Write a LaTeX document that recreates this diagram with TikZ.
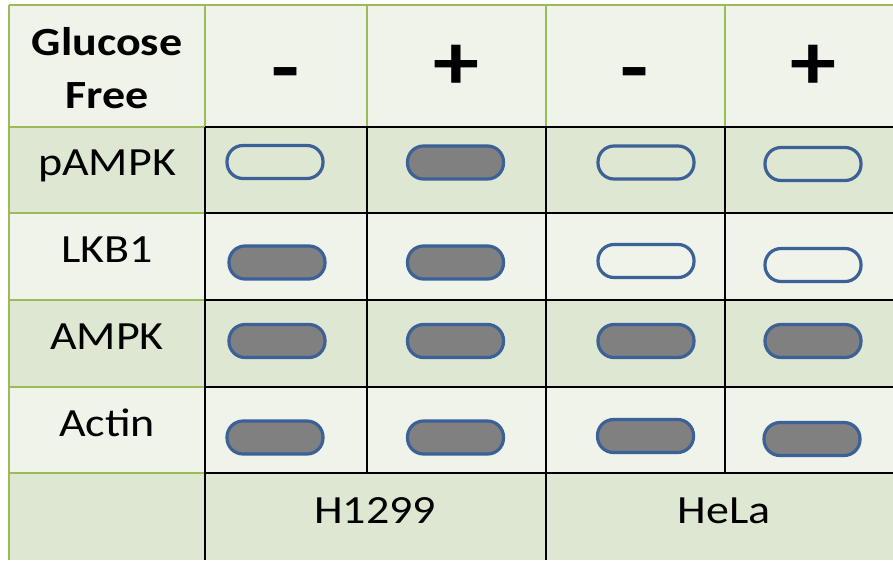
\documentclass[tikz,border=0pt]{standalone}
\usepackage{fontspec}
\setmainfont{Carlito}[FakeStretch=1.15]
\definecolor{cellL}{HTML}{EFF3EA}
\definecolor{cellD}{HTML}{DEE7D1}
\definecolor{grline}{HTML}{9BBB59}
\definecolor{pillblue}{HTML}{3B6196}
\definecolor{pillgray}{HTML}{808080}
\tikzset{
  gline/.style={draw=grline,line width=2.2pt},
  bline/.style={draw=black,line width=1.8pt},
  pill/.style={draw=pillblue,line width=3.2pt,rectangle,rounded corners=16pt,minimum width=96pt,minimum height=33pt,inner sep=0pt},
  pillon/.style={pill,fill=pillgray},
  lab/.style={anchor=base,inner sep=0pt,font=\fontsize{40}{48}\selectfont},
  blab/.style={anchor=base,inner sep=0pt,font=\fontsize{40}{48}\selectfont\bfseries},
  sign/.style={anchor=center,inner sep=0pt,font=\fontsize{80}{90}\selectfont\bfseries}
}
\begin{document}
\begin{tikzpicture}[x=1pt,y=-1pt]
\useasboundingbox (0,0) rectangle (893,560);
% fills
\fill[white] (0,0) rectangle (893,560);
\fill[cellL] (9,5) rectangle (893,127);
\fill[cellD] (9,127) rectangle (893,213);
\fill[cellL] (9,213) rectangle (893,300);
\fill[cellD] (9,300) rectangle (893,387);
\fill[cellL] (9,387) rectangle (893,473);
\fill[cellD] (9,473) rectangle (893,560);
% green lines
\draw[gline] (9,5) -- (893,5);
\draw[gline] (9,5) -- (9,560);
\foreach \x in {205,367,546,725} \draw[gline] (\x,5) -- (\x,127);
\foreach \y in {127,213,300,387,473} \draw[gline] (9,\y) -- (205,\y);
% black lines
\foreach \y in {127,213,300,387,473} \draw[bline] (205,\y) -- (893,\y);
\draw[bline] (205,127) -- (205,560);
\draw[bline] (546,127) -- (546,560);
\draw[bline] (367,127) -- (367,473);
\draw[bline] (725,127) -- (725,473);
% header texts
\node[blab] (g1) at (107,55) {Glucose};
\node[blab] (g2) at (107,108) {Free};
\node[sign] (s1) at (286,81) {-};
\node[sign] (s2) at (456,67) {+};
\node[sign] (s3) at (635,81) {-};
\node[sign] (s4) at (813,67) {+};
% row labels
\node[lab] (r1) at (107,175) {pAMPK};
\node[lab] (r2) at (107,262) {LKB1};
\node[lab] (r3) at (107,349) {AMPK};
\node[lab] (r4) at (107,436) {Actin};
\node[lab] (c1) at (375,523) {H1299};
\node[lab] (c2) at (724,523) {HeLa};
% pills
\node[pill]   (p11) at (275,162) {};
\node[pillon] (p12) at (455.5,162.5) {};
\node[pill]   (p13) at (646,162.5) {};
\node[pill]   (p14) at (813,164) {};
\node[pillon] (p21) at (277,262.5) {};
\node[pillon] (p22) at (455.5,262.5) {};
\node[pill]   (p23) at (646,261) {};
\node[pill]   (p24) at (813,265) {};
\node[pillon] (p31) at (277,341) {};
\node[pillon] (p32) at (455.5,341) {};
\node[pillon] (p33) at (646,341) {};
\node[pillon] (p34) at (813,341) {};
\node[pillon] (p41) at (275,437.5) {};
\node[pillon] (p42) at (455.5,437.5) {};
\node[pillon] (p43) at (645.5,436) {};
\node[pillon] (p44) at (812,439) {};
\end{tikzpicture}
\end{document}
